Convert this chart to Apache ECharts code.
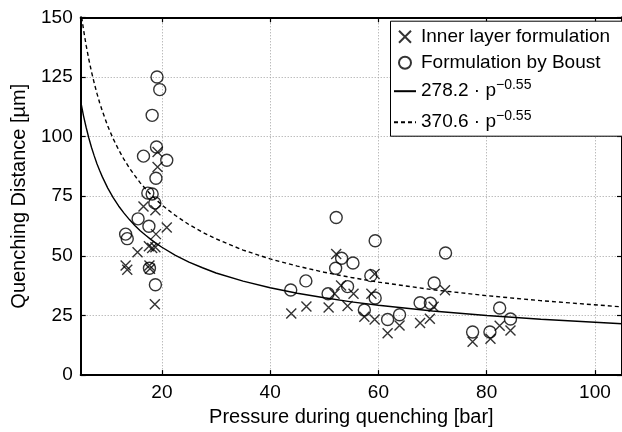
<!DOCTYPE html>
<html>
<head>
<meta charset="utf-8">
<script src="https://cdn.jsdelivr.net/npm/echarts@6/dist/echarts.min.js"></script>
<style>
html,body{margin:0;padding:0;background:#fff;}
#chart{width:622px;height:432px;}
</style>
</head>
<body>
<div id="chart"></div>
<script>
// ---- data ----
const seriesNames = ['Inner layer formulation', 'Formulation by Boust', '278.2 · p^−0.55', '370.6 · p^−0.55'];
const xTicks = [20, 40, 60, 80, 100];
const yTicks = [0, 25, 50, 75, 100, 125, 150];

// Inner layer formulation (x markers): [pressure bar, distance µm]
const innerLayer = [
  [19.2, 93.5], [19.2, 87.2], [16.6, 70.7], [18.8, 69.1], [20.9, 61.9], [18.9, 59.1],
  [15.5, 51.5], [17.6, 54.0], [18.2, 53.3], [18.8, 53.6], [13.3, 45.9], [13.6, 44.2],
  [17.7, 45.9], [17.8, 44.6], [18.7, 29.7],
  [43.9, 25.8], [46.7, 28.8], [50.8, 28.3], [52.2, 50.8], [53.1, 37.6], [51.9, 34.1],
  [54.3, 29.0], [55.4, 34.1], [57.4, 24.5], [59.3, 23.3], [59.3, 42.4], [58.7, 34.1],
  [61.7, 17.5], [63.9, 20.8], [67.7, 21.8], [69.5, 23.6], [70.2, 28.7], [72.3, 35.6],
  [77.4, 14.0], [80.7, 15.2], [82.4, 20.7], [84.4, 18.7]
];

// Formulation by Boust (circle markers)
const boust = [
  [19.1, 125.0], [19.6, 119.7], [18.2, 108.9], [16.6, 91.8], [19.0, 95.6], [20.9, 90.1],
  [18.9, 82.5], [17.4, 76.3], [18.2, 75.9], [18.7, 72.2], [15.6, 65.5], [17.6, 62.4],
  [13.3, 59.1], [13.6, 57.2], [17.7, 44.8], [18.8, 37.9],
  [52.2, 66.1], [59.4, 56.3], [72.4, 51.2], [53.2, 49.0], [55.3, 47.0], [52.1, 44.8],
  [58.6, 41.7], [43.8, 35.7], [46.6, 39.5], [50.7, 34.1], [54.3, 37.1], [59.4, 32.3],
  [70.3, 38.6], [57.4, 27.3], [61.7, 23.3], [63.9, 25.3], [67.7, 30.3], [69.6, 30.1],
  [77.4, 18.1], [80.6, 18.1], [82.4, 28.1], [84.4, 23.5]
];

// Fitted curves, values
const curveP = [5, 5.5, 6, 6.5, 7, 7.5, 8, 8.5, 9, 10, 11, 12, 13, 14, 15, 16, 17, 18, 19, 20,
  22.5, 25, 27.5, 30, 35, 40, 45, 50, 55, 60, 70, 80, 90, 105];
const curveSolid = [114.8, 108.9, 103.9, 99.4, 95.4, 91.9, 88.6, 85.8, 83.1, 78.4, 74.4, 70.9, 67.9, 65.2, 62.7, 60.5, 58.6, 56.8, 55.1, 53.6,
  50.2, 47.4, 45.0, 42.8, 39.4, 36.6, 34.3, 32.4, 30.7, 29.3, 26.9, 25.0, 23.4, 21.5];
const curveDashed = [152.9, 145.1, 138.3, 132.4, 127.1, 122.4, 118.1, 114.2, 110.7, 104.4, 99.1, 94.5, 90.4, 86.8, 83.6, 80.6, 78.0, 75.6, 73.4, 71.3,
  66.9, 63.1, 59.9, 57.1, 52.4, 48.7, 45.7, 43.1, 40.9, 39.0, 35.8, 33.3, 31.2, 28.6];

// ---- chart ----
const FONT = '"Liberation Sans", Arial, Helvetica, sans-serif';
const pair = (xs, ys) => xs.map((x, i) => [x, ys[i]]);

const chart = echarts.init(document.getElementById('chart'), null, {renderer: 'canvas'});

const legendLabel = {
  [seriesNames[0]]: seriesNames[0],
  [seriesNames[1]]: seriesNames[1],
  [seriesNames[2]]: '{n|278.2 · p}{s|−0.55}',
  [seriesNames[3]]: '{n|370.6 · p}{s|−0.55}'
};

const xCommon = {
  type: 'value', min: 5, max: 105,
  axisLine: {show: true, onZero: false, lineStyle: {color: '#000', width: 2}},
  axisTick: {show: true, inside: true, length: 5, customValues: xTicks, lineStyle: {color: '#000', width: 1.2}},
};
const yCommon = {
  type: 'value', min: 0, max: 150, interval: 25,
  axisLine: {show: true, onZero: false, lineStyle: {color: '#000', width: 2}},
  axisTick: {show: true, inside: true, length: 5, lineStyle: {color: '#000', width: 1.2}},
};

chart.setOption({
  animation: false,
  backgroundColor: '#fff',
  textStyle: {fontFamily: FONT},
  grid: {left: 80.7, right: -4.7, top: 17.3, bottom: 55.3, containLabel: false},
  xAxis: [
    Object.assign({}, xCommon, {
      position: 'bottom',
      name: 'Pressure during quenching [bar]',
      nameLocation: 'middle', nameGap: 31,
      nameTextStyle: {fontSize: 20, color: '#000', fontFamily: FONT},
      axisLabel: {show: true, customValues: xTicks, margin: 8, fontSize: 19, color: '#000', fontFamily: FONT},
      splitLine: {show: true, lineStyle: {color: '#a0a0a0', width: 1, type: [1, 2]}}
    }),
    Object.assign({}, xCommon, {
      position: 'top',
      axisLabel: {show: false},
      splitLine: {show: false}
    })
  ],
  yAxis: [
    Object.assign({}, yCommon, {
      position: 'left',
      name: 'Quenching Distance [µm]',
      nameLocation: 'middle', nameGap: 51, nameRotate: 90,
      nameTextStyle: {fontSize: 20, color: '#000', fontFamily: FONT},
      axisLabel: {show: true, margin: 8, fontSize: 19, color: '#000', fontFamily: FONT},
      splitLine: {show: true, lineStyle: {color: '#a0a0a0', width: 1, type: [1, 2]}}
    }),
    Object.assign({}, yCommon, {
      position: 'right',
      axisLabel: {show: false},
      splitLine: {show: false}
    })
  ],
  // legend frame (extends past the right edge of the picture, as in the reference)
  graphic: [{
    type: 'rect', left: 390, top: 20.7, z: 10,
    shape: {width: 260, height: 115},
    style: {fill: '#fff', stroke: '#000', lineWidth: 1}
  }],
  legend: {
    show: true,
    z: 20,
    orient: 'vertical',
    left: 390, top: 20.7,
    padding: [5, 4, 1, 3],
    itemGap: 4,
    itemWidth: 22, itemHeight: 12,
    backgroundColor: 'rgba(0,0,0,0)',
    borderWidth: 0,
    selectedMode: false,
    data: seriesNames,
    formatter: (name) => legendLabel[name],
    textStyle: {
      fontSize: 19, color: '#000', fontFamily: FONT, lineHeight: 22,
      rich: {
        n: {fontSize: 19, lineHeight: 22, color: '#000', fontFamily: FONT},
        s: {fontSize: 14, lineHeight: 14, color: '#000', fontFamily: FONT, padding: [0, 0, 13, 0]}
      }
    }
  },
  series: [
    {
      name: seriesNames[0], type: 'scatter', data: innerLayer,
      symbol: 'path://M0,0L10,10M10,0L0,10', symbolSize: 10,
      itemStyle: {color: 'rgba(0,0,0,0)', borderColor: '#000', borderWidth: 1.4},
      z: 3
    },
    {
      name: seriesNames[1], type: 'scatter', data: boust,
      symbol: 'circle', symbolSize: 12,
      itemStyle: {color: 'rgba(0,0,0,0)', borderColor: '#000', borderWidth: 1.4},
      z: 3
    },
    {
      name: seriesNames[2], type: 'line', data: pair(curveP, curveSolid),
      showSymbol: false, symbol: 'none', smooth: false,
      lineStyle: {color: '#000', width: 1.4, type: 'solid'},
      itemStyle: {color: 'rgba(0,0,0,0)', borderColor: 'rgba(0,0,0,0)', borderWidth: 0},
      z: 2
    },
    {
      name: seriesNames[3], type: 'line', data: pair(curveP, curveDashed),
      showSymbol: false, symbol: 'none', smooth: false,
      lineStyle: {color: '#000', width: 1.4, type: [4, 3]},
      itemStyle: {color: 'rgba(0,0,0,0)', borderColor: 'rgba(0,0,0,0)', borderWidth: 0},
      z: 2
    }
  ]
});
</script>
</body>
</html>
